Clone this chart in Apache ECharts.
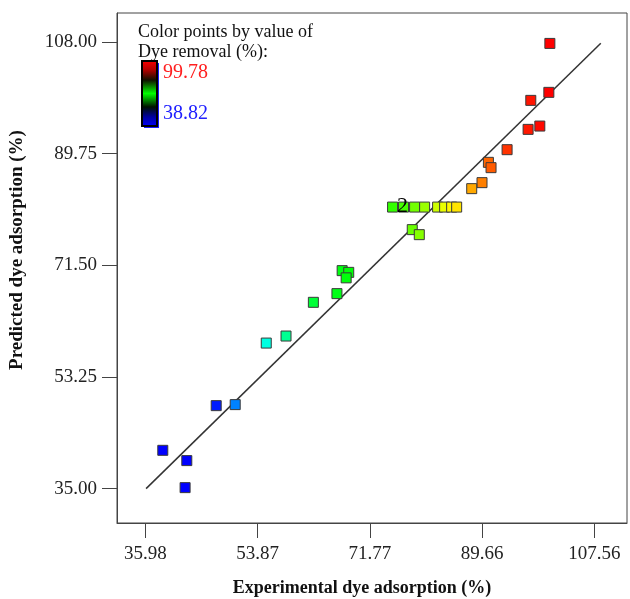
<!DOCTYPE html>
<html>
<head>
<meta charset="utf-8">
<script src="https://cdn.jsdelivr.net/npm/echarts@6/dist/echarts.min.js"></script>
<style>
  html, body { margin: 0; padding: 0; background: #fff; }
  #chart { width: 630px; height: 599px; }
</style>
</head>
<body>
<div id="chart"></div>
<script>
const experimental = [
  100.48, 100.32, 97.44, 98.88, 97.01, 93.66, 90.68, 91.10, 89.66, 88.02,
  75.40, 77.15, 78.91, 80.51, 82.58, 83.70, 84.82, 85.62,
  78.54, 79.66,
  67.36, 68.41, 68.00, 66.53, 62.77, 58.41, 55.26, 50.31, 47.28,
  38.76, 42.59, 42.32
]
const predicted = [
  107.77, 99.77, 98.46, 94.26, 93.72, 90.40, 88.33, 87.46, 85.01, 84.03,
  81.02, 81.02, 81.02, 81.02, 81.02, 81.02, 81.02, 81.02,
  77.33, 76.51,
  70.63, 70.35, 69.45, 66.87, 65.45, 59.94, 58.79, 48.73, 48.56,
  41.26, 39.58, 35.16
]
// point drawn on top of a replicate, with its count
const replicateIndex = 11
const replicateLabel = "2"

const xTicks = [35.98, 53.87, 71.77, 89.66, 107.56]
const yTicks = [35.0, 53.25, 71.5, 89.75, 108.0]
const fitLine = [[36.1, 35.0], [108.6, 107.8]]
const colorMin = 38.82
const colorMax = 99.78

const serif = "Liberation Serif, Times New Roman, serif"

const chart = echarts.init(document.getElementById("chart"))

const points = experimental.map((x, i) => {
  const item = { value: [x, predicted[i]] }
  if (i === replicateIndex) {
    item.label = {
      show: true,
      formatter: replicateLabel,
      position: "inside",
      offset: [-1, -1],
      fontFamily: serif,
      fontSize: 22,
      color: "#000",
    }
  }
  return item
})

const option = {
  animation: false,
  grid: {
    left: 117, right: 3, top: 13, bottom: 76,
    show: true, borderColor: "#444", borderWidth: 1,
  },
  xAxis: {
    type: "value",
    min: 31.46, max: 112.78,
    splitLine: { show: false },
    axisLine: { show: true, lineStyle: { color: "#444" } },
    axisTick: {
      show: true, length: 15, inside: false,
      customValues: xTicks, lineStyle: { color: "#444" },
    },
    axisLabel: {
      customValues: xTicks,
      formatter: v => v.toFixed(2),
      margin: 22,
      fontFamily: serif, fontSize: 19, color: "#222",
    },
  },
  yAxis: {
    type: "value",
    min: 29.38, max: 112.74,
    splitLine: { show: false },
    axisLine: { show: true, lineStyle: { color: "#444" } },
    axisTick: {
      show: true, length: 15, inside: false,
      customValues: yTicks, lineStyle: { color: "#444" },
    },
    axisLabel: {
      customValues: yTicks,
      formatter: v => v.toFixed(2),
      margin: 20,
      fontFamily: serif, fontSize: 19, color: "#222",
    },
  },
  visualMap: {
    type: "continuous",
    show: false,
    seriesIndex: 0,
    dimension: 0,
    min: colorMin, max: colorMax,
    inRange: {
      color: ["#0000ff", "#0000ff", "#00ffff", "#00ff40", "#00ff00",
              "#40ff00", "#ffff00", "#ff4000", "#ff0000"],
    },
  },
  series: [
    {
      type: "scatter",
      data: points,
      symbol: "rect",
      symbolSize: 10,
      z: 3,
      itemStyle: {
        borderColor: "#3a3a3a", borderWidth: 1,
        opacity: 1,
      },
    },
    {
      type: "line",
      data: fitLine,
      symbol: "none",
      z: 2,
      lineStyle: { color: "#333", width: 1.5 },
    },
  ],
  graphic: [
    {
      type: "text", left: 138, top: 22,
      style: {
        text: "Color points by value of\nDye removal (%):",
        font: "18px " + serif, fill: "#111", lineHeight: 20,
      },
    },
    {
      type: "rect", shape: { x: 144, y: 63, width: 15, height: 65 },
      style: { fill: "#1a1aff" },
    },
    {
      type: "rect", shape: { x: 142, y: 61, width: 15, height: 65 },
      style: {
        stroke: "#000", lineWidth: 2,
        fill: new echarts.graphic.LinearGradient(0, 0, 0, 1, [
          { offset: 0, color: "#ff0000" },
          { offset: 0.15, color: "#b00000" },
          { offset: 0.3, color: "#101000" },
          { offset: 0.5, color: "#00ff00" },
          { offset: 0.7, color: "#001000" },
          { offset: 0.85, color: "#0000a0" },
          { offset: 1, color: "#0000ff" },
        ]),
      },
    },
    {
      type: "text", left: 163, top: 63,
      style: { text: colorMax.toFixed(2), font: "20px " + serif, fill: "#ff2020" },
    },
    {
      type: "text", left: 163, top: 104,
      style: { text: colorMin.toFixed(2), font: "20px " + serif, fill: "#2020ff" },
    },
    {
      type: "text", x: 362, y: 588,
      style: {
        text: "Experimental dye adsorption (%)",
        font: "bold 18px " + serif, fill: "#111",
        align: "center", verticalAlign: "middle",
      },
    },
    {
      type: "text", x: 17, y: 250, rotation: Math.PI / 2,
      style: {
        text: "Predicted dye adsorption (%)",
        font: "bold 19px " + serif, fill: "#111",
        align: "center", verticalAlign: "middle",
      },
    },
  ],
}

chart.setOption(option)
</script>
</body>
</html>
